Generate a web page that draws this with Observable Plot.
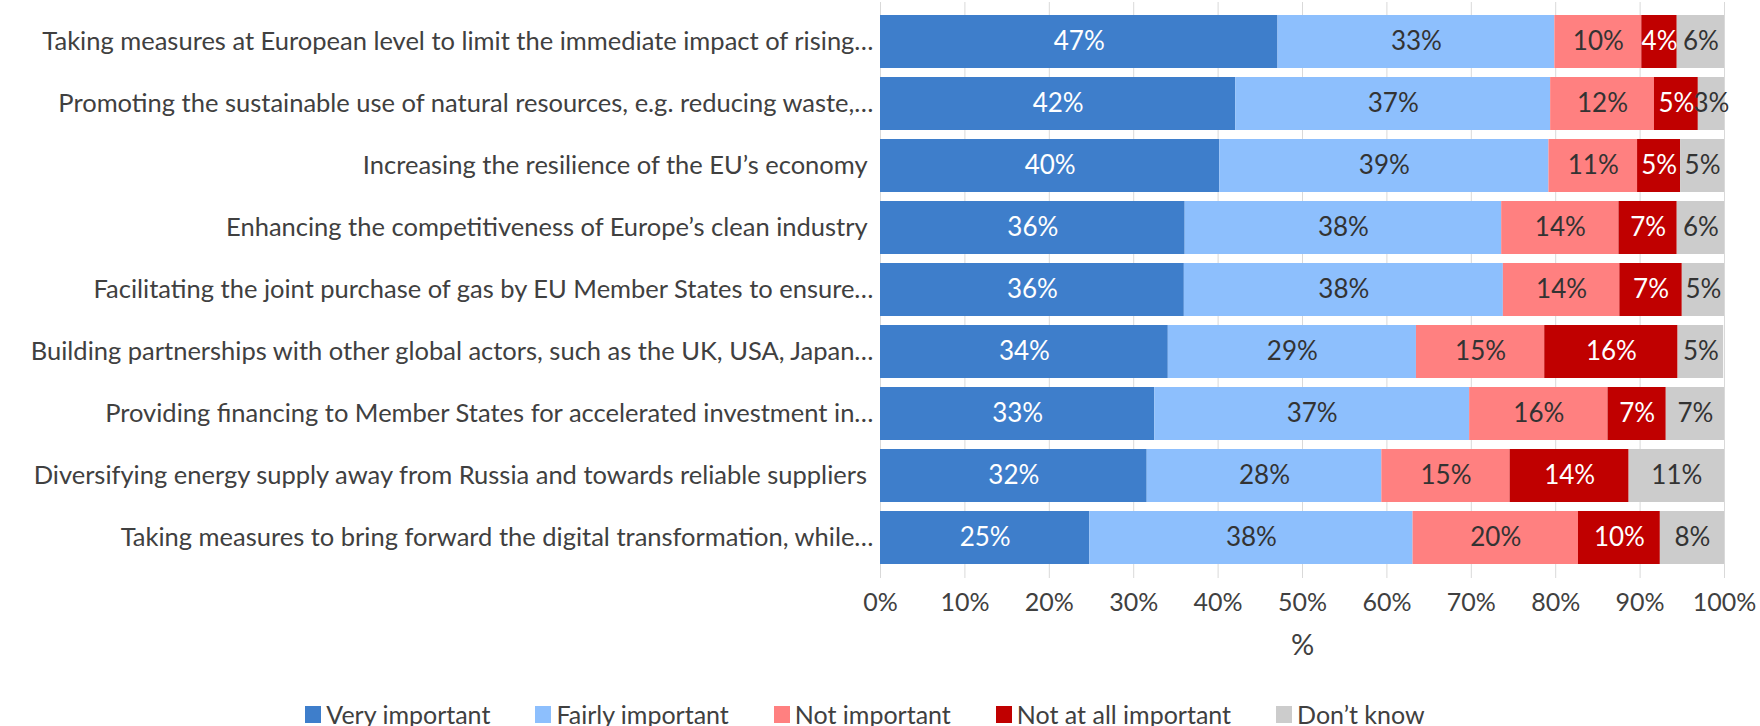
<!DOCTYPE html>
<html>
<head>
<meta charset="utf-8">
<script src="https://cdn.jsdelivr.net/npm/d3@7"></script>
<script src="https://cdn.jsdelivr.net/npm/@observablehq/plot@0.6"></script>
<style>
  html, body { margin: 0; padding: 0; background: #fff; }
  body { width: 1760px; height: 726px; overflow: hidden; font-family: Lato, "Open Sans", sans-serif; }
  svg text { white-space: pre; }
  #legend { display: flex; justify-content: center; align-items: center; gap: 45px; padding-top: 39px; padding-right: 30px; font-size: 25px; color: #404040; line-height: 30px; }
  #legend .item { display: flex; align-items: center; }
  #legend .sw { width: 16px; height: 17px; margin-right: 5px; }
</style>
</head>
<body>
<div id="chart"></div>
<div id="legend"></div>
<script>
const items = [
  "Taking measures at European level to limit the immediate impact of rising…",
  "Promoting the sustainable use of natural resources, e.g. reducing waste,…",
  "Increasing the resilience of the EU’s economy ",
  "Enhancing the competitiveness of Europe’s clean industry ",
  "Facilitating the joint purchase of gas by EU Member States to ensure…",
  "Building partnerships with other global actors, such as the UK, USA, Japan…",
  "Providing financing to Member States for accelerated investment in…",
  "Diversifying energy supply away from Russia and towards reliable suppliers ",
  "Taking measures to bring forward the digital transformation, while…"
];
const categories = ["Very important", "Fairly important", "Not important", "Not at all important", "Don’t know"];
const colors = ["#3e7ecb", "#8dbffd", "#ff8080", "#c00000", "#cccccc"];
const labelColors = ["#ffffff", "#333333", "#333333", "#ffffff", "#333333"];

const veryImportant   = [47.1, 42.1, 40.2, 36.1, 36.0, 34.1, 32.5, 31.6, 24.8];
const fairlyImportant = [32.8, 37.3, 39.0, 37.5, 37.8, 29.4, 37.3, 27.8, 38.3];
const notImportant    = [10.3, 12.3, 10.5, 13.9, 13.8, 15.2, 16.4, 15.2, 19.6];
const notAtAll        = [4.2, 5.2, 5.1, 6.9, 7.4, 15.8, 6.9, 14.1, 9.7];
const dontKnow        = [5.6, 3.1, 5.2, 5.6, 5.0, 5.4, 6.9, 11.3, 7.6];

const xTicks = [0, 10, 20, 30, 40, 50, 60, 70, 80, 90, 100];

const series = [veryImportant, fairlyImportant, notImportant, notAtAll, dontKnow];
const data = [];
items.forEach((item, i) => {
  categories.forEach((cat, c) => {
    data.push({item, category: cat, value: series[c][i], ci: c});
  });
});

const chart = Plot.plot({
  width: 1760,
  height: 660,
  marginLeft: 880,
  marginRight: 36,
  marginTop: 2,
  marginBottom: 82,
  style: {fontFamily: "Lato, 'Open Sans', sans-serif", color: "#404040", background: "#fff"},
  x: {domain: [0, 100], label: null},
  y: {domain: items, padding: 0.144, label: null},
  color: {domain: categories, range: colors},
  marks: [
    Plot.gridX(xTicks, {stroke: "#d9d9d9", strokeOpacity: 1, strokeWidth: 1}),
    Plot.barX(data, {y: "item", x: "value", fill: "category", order: categories}),
    Plot.text(data, Plot.stackX({
      y: "item", x: "value", z: "category", order: categories,
      text: d => Math.round(d.value) + "%",
      fill: d => labelColors[d.ci],
      fontSize: 26
    })),
    Plot.axisY({tickSize: 0, tickPadding: 7, fontSize: 25.5, fill: "#404040", textAnchor: "end"}),
    Plot.axisX({ticks: xTicks, tickFormat: d => d + "%", tickSize: 0, tickPadding: 15, fontSize: 25, label: null, fill: "#404040"}),
    Plot.text(["%"], {frameAnchor: "bottom", dy: 76, fontSize: 29, fill: "#404040"})
  ]
});
document.getElementById("chart").appendChild(chart);

const legend = document.getElementById("legend");
categories.forEach((cat, c) => {
  const it = document.createElement("div");
  it.className = "item";
  const sw = document.createElement("span");
  sw.className = "sw";
  sw.style.background = colors[c];
  const tx = document.createElement("span");
  tx.textContent = cat;
  it.appendChild(sw);
  it.appendChild(tx);
  legend.appendChild(it);
});
</script>
</body>
</html>
